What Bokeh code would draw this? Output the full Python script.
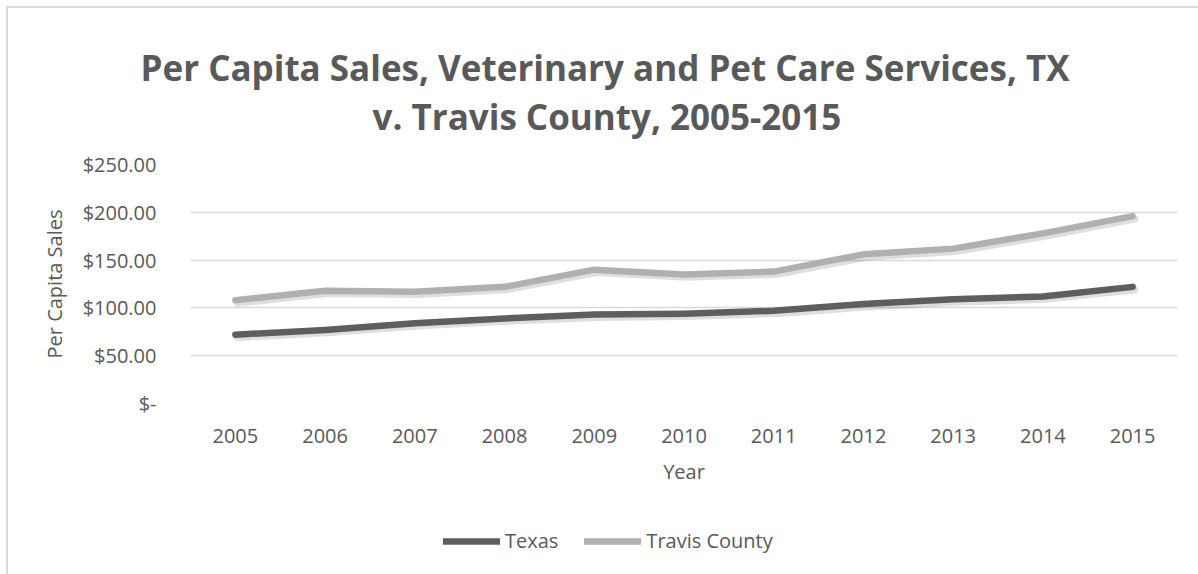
from bokeh.plotting import figure
from bokeh.layouts import column
from bokeh.models import (Title, Legend, LegendItem, ColumnDataSource, CustomJSTickFormatter,
                          FixedTicker, Range1d, FactorRange)
from bokeh.transform import dodge
from bokeh.embed import file_html
from bokeh.resources import INLINE

years = ["2005", "2006", "2007", "2008", "2009", "2010", "2011", "2012", "2013", "2014", "2015"]
texas = [72, 77, 84, 89, 93, 94, 97, 104, 109, 112, 122]
travis = [108, 118, 117, 122, 140, 135, 138, 156, 162, 178, 196]
y_ticks = [0, 50, 100, 150, 200, 250]

title_lines = ["Per Capita Sales, Veterinary and Pet Care Services, TX",
               "v. Travis County, 2005-2015"]
series_names = ["Texas", "Travis County"]

FONT = "Open Sans"
TXT = "#595959"
C_TX = "#5e5e5e"
C_TV = "#b0b0b0"

src = ColumnDataSource(dict(x=years, texas=texas, travis=travis))
xr = FactorRange(*years)

p = figure(width=1190, height=512, x_range=xr, y_range=Range1d(0, 250),
           output_backend="svg", toolbar_location=None,
           min_border_left=182, min_border_right=21, min_border_top=156, min_border_bottom=117)
p.outline_line_color = None
p.background_fill_color = "white"
p.border_fill_color = "white"

p.xgrid.grid_line_color = None
p.ygrid.grid_line_color = "#d9d9d9"
p.ygrid.grid_line_width = 1.5

p.yaxis.ticker = FixedTicker(ticks=y_ticks)
p.yaxis.formatter = CustomJSTickFormatter(code="return tick == 0 ? '$-' : '$' + tick.toFixed(2);")
for ax in (p.xaxis[0], p.yaxis[0]):
    ax.axis_line_color = None
    ax.major_tick_line_color = None
    ax.minor_tick_line_color = None
    ax.major_label_text_font = FONT
    ax.major_label_text_font_size = "20px"
    ax.major_label_text_color = TXT
    ax.axis_label_text_font = FONT
    ax.axis_label_text_font_size = "20px"
    ax.axis_label_text_color = TXT
    ax.axis_label_text_font_style = "normal"

p.yaxis.axis_label = "Per Capita Sales"
p.yaxis.major_label_standoff = 28
p.yaxis.axis_label_standoff = 12
p.xaxis.axis_label = "Year"
p.xaxis.major_label_standoff = 19
p.xaxis.axis_label_standoff = 12

# subtle drop shadows
for col in ("texas", "travis"):
    p.line(x=dodge("x", 0.025, range=xr), y=dodge(col, -3), source=src,
           line_color="black", line_alpha=0.13, line_width=7, line_cap="round", line_join="round")

p.line(x="x", y="texas", source=src, line_color=C_TX, line_width=6.5,
       line_cap="round", line_join="round")
p.line(x="x", y="travis", source=src, line_color=C_TV, line_width=6.5,
       line_cap="round", line_join="round")

# blank spacer between the plot area and the title
p.add_layout(Title(text=" ", text_font=FONT, text_font_size="17px", standoff=0), "above")
# title lines (left-aligned with offsets so that both are centred on the chart)
p.add_layout(Title(text=title_lines[1], align="left", offset=182, standoff=0,
                   text_font=FONT, text_font_style="bold", text_font_size="35px",
                   text_color=TXT), "above")
p.add_layout(Title(text=title_lines[0], align="left", offset=-50, standoff=0,
                   text_font=FONT, text_font_style="bold", text_font_size="35px",
                   text_color=TXT), "above")

# legend strip (same series drawn outside its visible range, only their legend glyphs show)
q = figure(width=1190, height=54, x_range=xr, y_range=Range1d(1000, 1001),
           output_backend="svg", toolbar_location=None, x_axis_type=None, y_axis_type=None,
           min_border=0)
q.outline_line_color = None
q.xgrid.grid_line_color = None
q.ygrid.grid_line_color = None
g_tx = q.line(x="x", y="texas", source=src, line_color=C_TX, line_width=6.5, line_cap="round")
g_tv = q.line(x="x", y="travis", source=src, line_color=C_TV, line_width=6.5, line_cap="round")
legend = Legend(items=[LegendItem(label=series_names[0], renderers=[g_tx]),
                       LegendItem(label=series_names[1], renderers=[g_tv])],
                orientation="horizontal", location=(253, 20),
                glyph_width=57, glyph_height=20, label_standoff=5, spacing=26,
                padding=0, margin=0, border_line_color=None, background_fill_alpha=0,
                label_text_font=FONT, label_text_font_size="20px", label_text_color=TXT)
q.add_layout(legend, "center")

layout = column(p, q, spacing=0)
layout.margin = (8, 0, 0, 8)
layout.styles = {"outline": "2px solid #d9d9d9"}

open("out.html", "w").write(file_html(layout, INLINE))
